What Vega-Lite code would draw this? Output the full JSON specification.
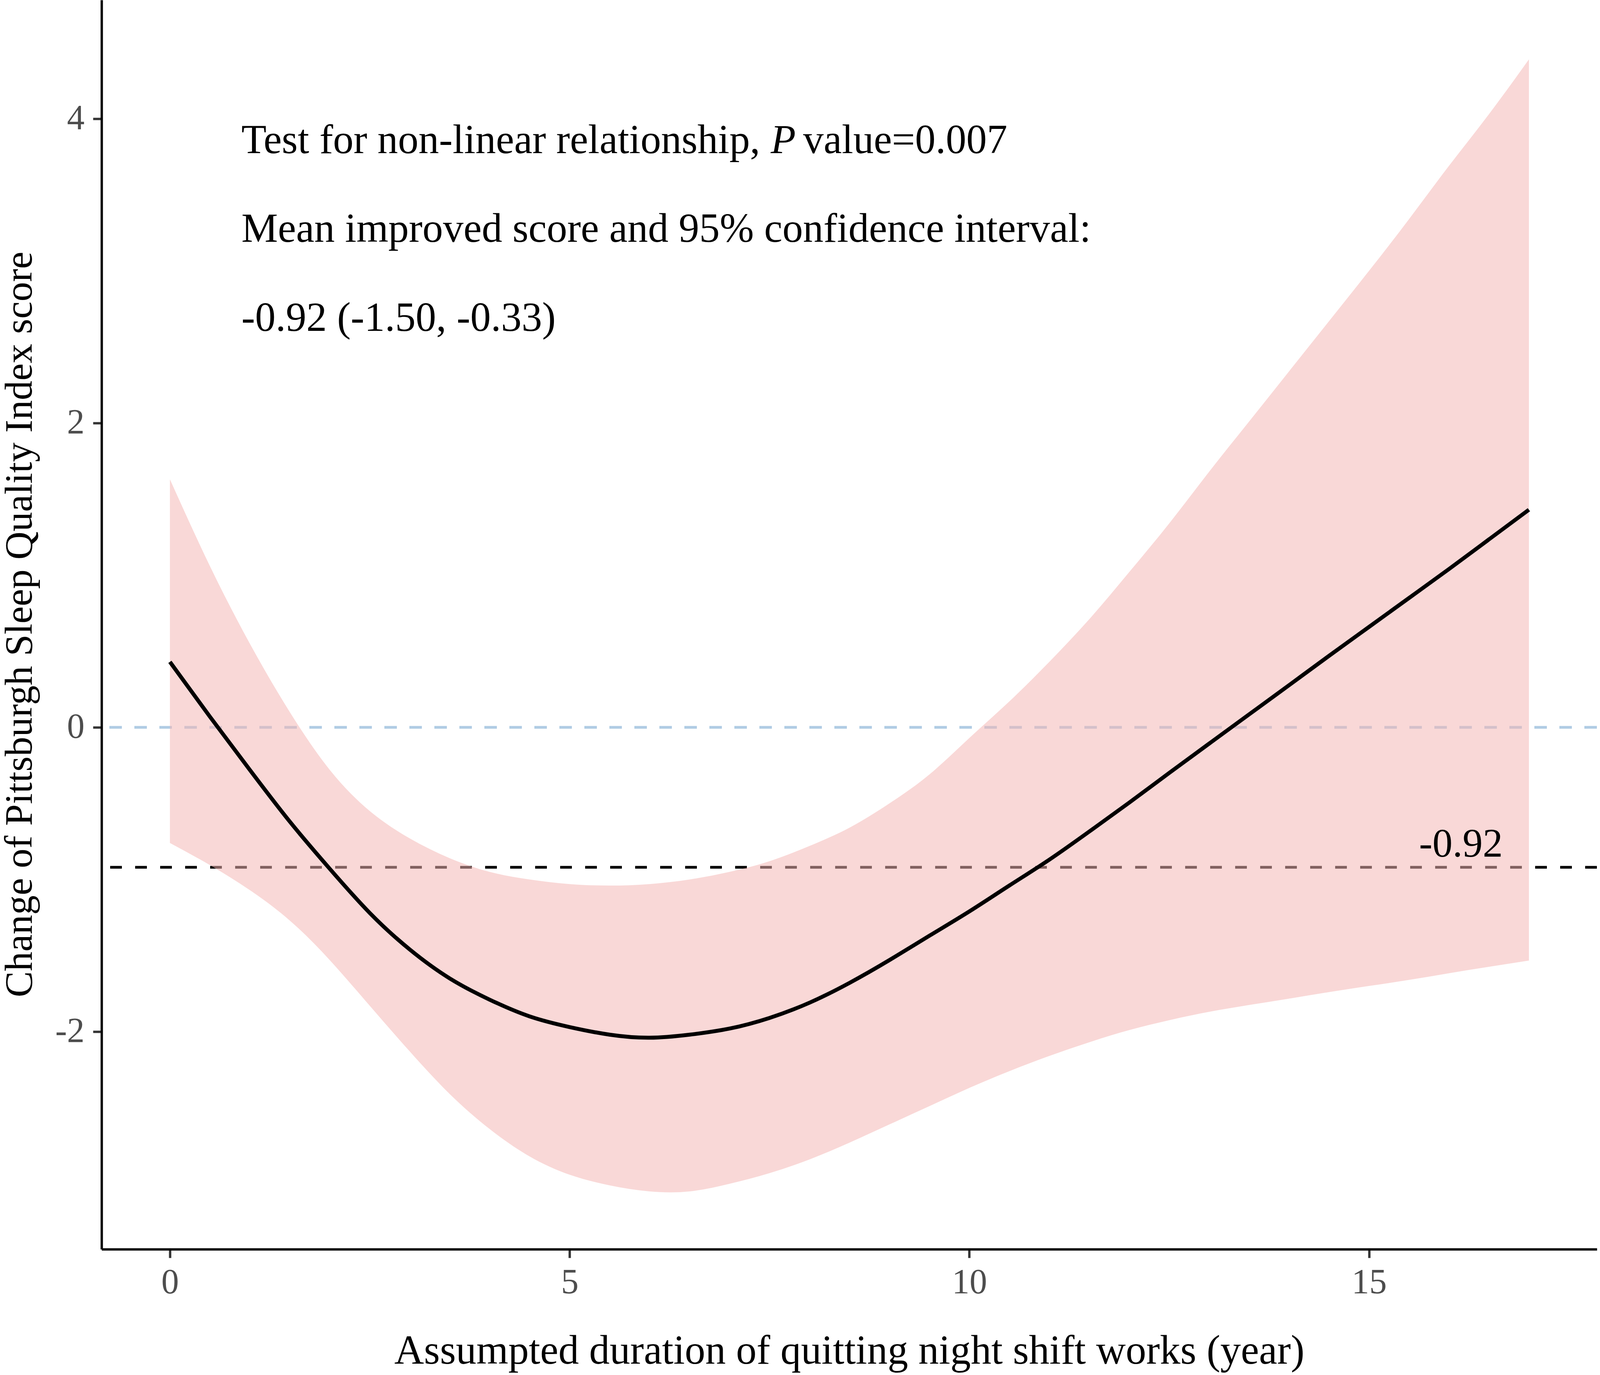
{
  "$schema": "https://vega.github.io/schema/vega-lite/v6.json",
  "width": "container",
  "height": 3520,
  "autosize": {"type": "fit", "contains": "padding", "resize": true},
  "padding": {"left": 0, "top": 0, "right": 4, "bottom": 9},
  "background": "white",
  "config": {
    "view": {"stroke": null},
    "font": "Liberation Serif",
    "axis": {
      "grid": false,
      "domainColor": "black",
      "domainWidth": 6,
      "tickColor": "#333333",
      "tickWidth": 6,
      "tickSize": 22,
      "labelFont": "Liberation Serif",
      "labelFontSize": 90,
      "labelColor": "#4D4D4D",
      "titleFont": "Liberation Serif",
      "titleFontWeight": "normal",
      "titleColor": "black"
    }
  },
  "datasets": {
    "curve": [
      {"x": 0, "fit": 0.43, "lo": -0.76, "hi": 1.63},
      {"x": 0.5, "fit": 0.07, "lo": -0.905, "hi": 1.06},
      {"x": 1, "fit": -0.28, "lo": -1.07, "hi": 0.55},
      {"x": 1.5, "fit": -0.62, "lo": -1.27, "hi": 0.1},
      {"x": 2, "fit": -0.93, "lo": -1.53, "hi": -0.28},
      {"x": 2.5, "fit": -1.22, "lo": -1.83, "hi": -0.55},
      {"x": 3, "fit": -1.46, "lo": -2.13, "hi": -0.73},
      {"x": 3.5, "fit": -1.65, "lo": -2.41, "hi": -0.86},
      {"x": 4, "fit": -1.79, "lo": -2.64, "hi": -0.95},
      {"x": 4.5, "fit": -1.9, "lo": -2.82, "hi": -1.0},
      {"x": 5, "fit": -1.97, "lo": -2.94, "hi": -1.03},
      {"x": 5.5, "fit": -2.02, "lo": -3.01, "hi": -1.04},
      {"x": 6, "fit": -2.04, "lo": -3.05, "hi": -1.03},
      {"x": 6.5, "fit": -2.02, "lo": -3.05, "hi": -1.0},
      {"x": 7, "fit": -1.98, "lo": -3.0, "hi": -0.95},
      {"x": 7.5, "fit": -1.91, "lo": -2.93, "hi": -0.88},
      {"x": 8, "fit": -1.81, "lo": -2.84, "hi": -0.78},
      {"x": 8.5, "fit": -1.68, "lo": -2.73, "hi": -0.66},
      {"x": 9, "fit": -1.53, "lo": -2.61, "hi": -0.5},
      {"x": 9.5, "fit": -1.37, "lo": -2.49, "hi": -0.31},
      {"x": 10, "fit": -1.21, "lo": -2.37, "hi": -0.07},
      {"x": 10.5, "fit": -1.04, "lo": -2.26, "hi": 0.17},
      {"x": 11, "fit": -0.87, "lo": -2.16, "hi": 0.43},
      {"x": 11.5, "fit": -0.685, "lo": -2.07, "hi": 0.71},
      {"x": 12, "fit": -0.495, "lo": -1.99, "hi": 1.02},
      {"x": 12.5, "fit": -0.3, "lo": -1.925, "hi": 1.34},
      {"x": 13, "fit": -0.107, "lo": -1.87, "hi": 1.68},
      {"x": 13.5, "fit": 0.085, "lo": -1.825, "hi": 2.01},
      {"x": 14, "fit": 0.277, "lo": -1.783, "hi": 2.34},
      {"x": 14.5, "fit": 0.47, "lo": -1.74, "hi": 2.67},
      {"x": 15, "fit": 0.66, "lo": -1.7, "hi": 3.0},
      {"x": 15.5, "fit": 0.85, "lo": -1.66, "hi": 3.34},
      {"x": 16, "fit": 1.04, "lo": -1.616, "hi": 3.69},
      {"x": 16.5, "fit": 1.235, "lo": -1.574, "hi": 4.03},
      {"x": 17, "fit": 1.43, "lo": -1.533, "hi": 4.39}
    ],
    "notes": [
      {"x": 0.894, "y": 3.774, "label": "Test for non-linear relationship,"},
      {"x": 0.894, "y": 3.191, "label": "Mean improved score and 95% confidence interval:"},
      {"x": 0.894, "y": 2.606, "label": "-0.92 (-1.50, -0.33)"}
    ]
  },
  "layer": [
    {
      "data": {"values": [{"y": 0}]},
      "mark": {"type": "rule", "color": "#B0CCE4", "strokeWidth": 7, "strokeDash": [32, 32]},
      "encoding": {
        "y": {"field": "y", "type": "quantitative", "scale": {"domain": [-3.43, 4.78], "nice": false, "zero": false}}
      }
    },
    {
      "data": {"values": [{"y": -0.92}]},
      "mark": {"type": "rule", "color": "black", "strokeWidth": 7, "strokeDash": [30, 34]},
      "encoding": {
        "y": {"field": "y", "type": "quantitative"}
      }
    },
    {
      "data": {"name": "curve"},
      "mark": {"type": "area", "fill": "#F4B6B4", "fillOpacity": 0.53, "interpolate": "natural"},
      "encoding": {
        "x": {
          "field": "x",
          "type": "quantitative",
          "scale": {"domain": [-0.855, 17.85], "nice": false, "zero": false},
          "axis": {
            "values": [0, 5, 10, 15],
            "format": "d",
            "title": "Assumpted duration of quitting night shift works (year)",
            "titleFontSize": 105,
            "titleY": 292,
            "titleBaseline": "alphabetic",
            "labelBaseline": "alphabetic",
            "labelPadding": 90
          }
        },
        "y": {
          "field": "lo",
          "type": "quantitative",
          "axis": {
            "values": [-2, 0, 2, 4],
            "format": "d",
            "labelExpr": "replace(datum.label, '\u2212', '-')",
            "labelPadding": 22,
            "title": "Change of Pittsburgh Sleep Quality Index score",
            "titleFontSize": 100,
            "titleAngle": -90,
            "titleX": -180,
            "titleY": 1598,
            "titleAlign": "center",
            "titleBaseline": "alphabetic"
          }
        },
        "y2": {"field": "hi"}
      }
    },
    {
      "data": {"name": "curve"},
      "mark": {"type": "line", "color": "black", "strokeWidth": 10, "interpolate": "natural"},
      "encoding": {
        "x": {"field": "x", "type": "quantitative"},
        "y": {"field": "fit", "type": "quantitative"}
      }
    },
    {
      "data": {"name": "notes"},
      "mark": {"type": "text", "align": "left", "baseline": "alphabetic", "fontSize": 105, "color": "black", "font": "Liberation Serif"},
      "encoding": {
        "x": {"field": "x", "type": "quantitative"},
        "y": {"field": "y", "type": "quantitative"},
        "text": {"field": "label"}
      }
    },
    {
      "data": {"values": [{"x": 0.894, "y": 3.774, "label": "P"}]},
      "mark": {"type": "text", "align": "left", "baseline": "alphabetic", "fontSize": 105, "fontStyle": "italic", "color": "black", "font": "Liberation Serif", "dx": 1355},
      "encoding": {
        "x": {"field": "x", "type": "quantitative"},
        "y": {"field": "y", "type": "quantitative"},
        "text": {"field": "label"}
      }
    },
    {
      "data": {"values": [{"x": 0.894, "y": 3.774, "label": "value=0.007"}]},
      "mark": {"type": "text", "align": "left", "baseline": "alphabetic", "fontSize": 105, "color": "black", "font": "Liberation Serif", "dx": 1438},
      "encoding": {
        "x": {"field": "x", "type": "quantitative"},
        "y": {"field": "y", "type": "quantitative"},
        "text": {"field": "label"}
      }
    },
    {
      "data": {"values": [{"x": 16.15, "y": -0.85, "label": "-0.92"}]},
      "mark": {"type": "text", "align": "center", "baseline": "alphabetic", "fontSize": 103, "color": "black", "font": "Liberation Serif"},
      "encoding": {
        "x": {"field": "x", "type": "quantitative"},
        "y": {"field": "y", "type": "quantitative"},
        "text": {"field": "label"}
      }
    }
  ]
}
